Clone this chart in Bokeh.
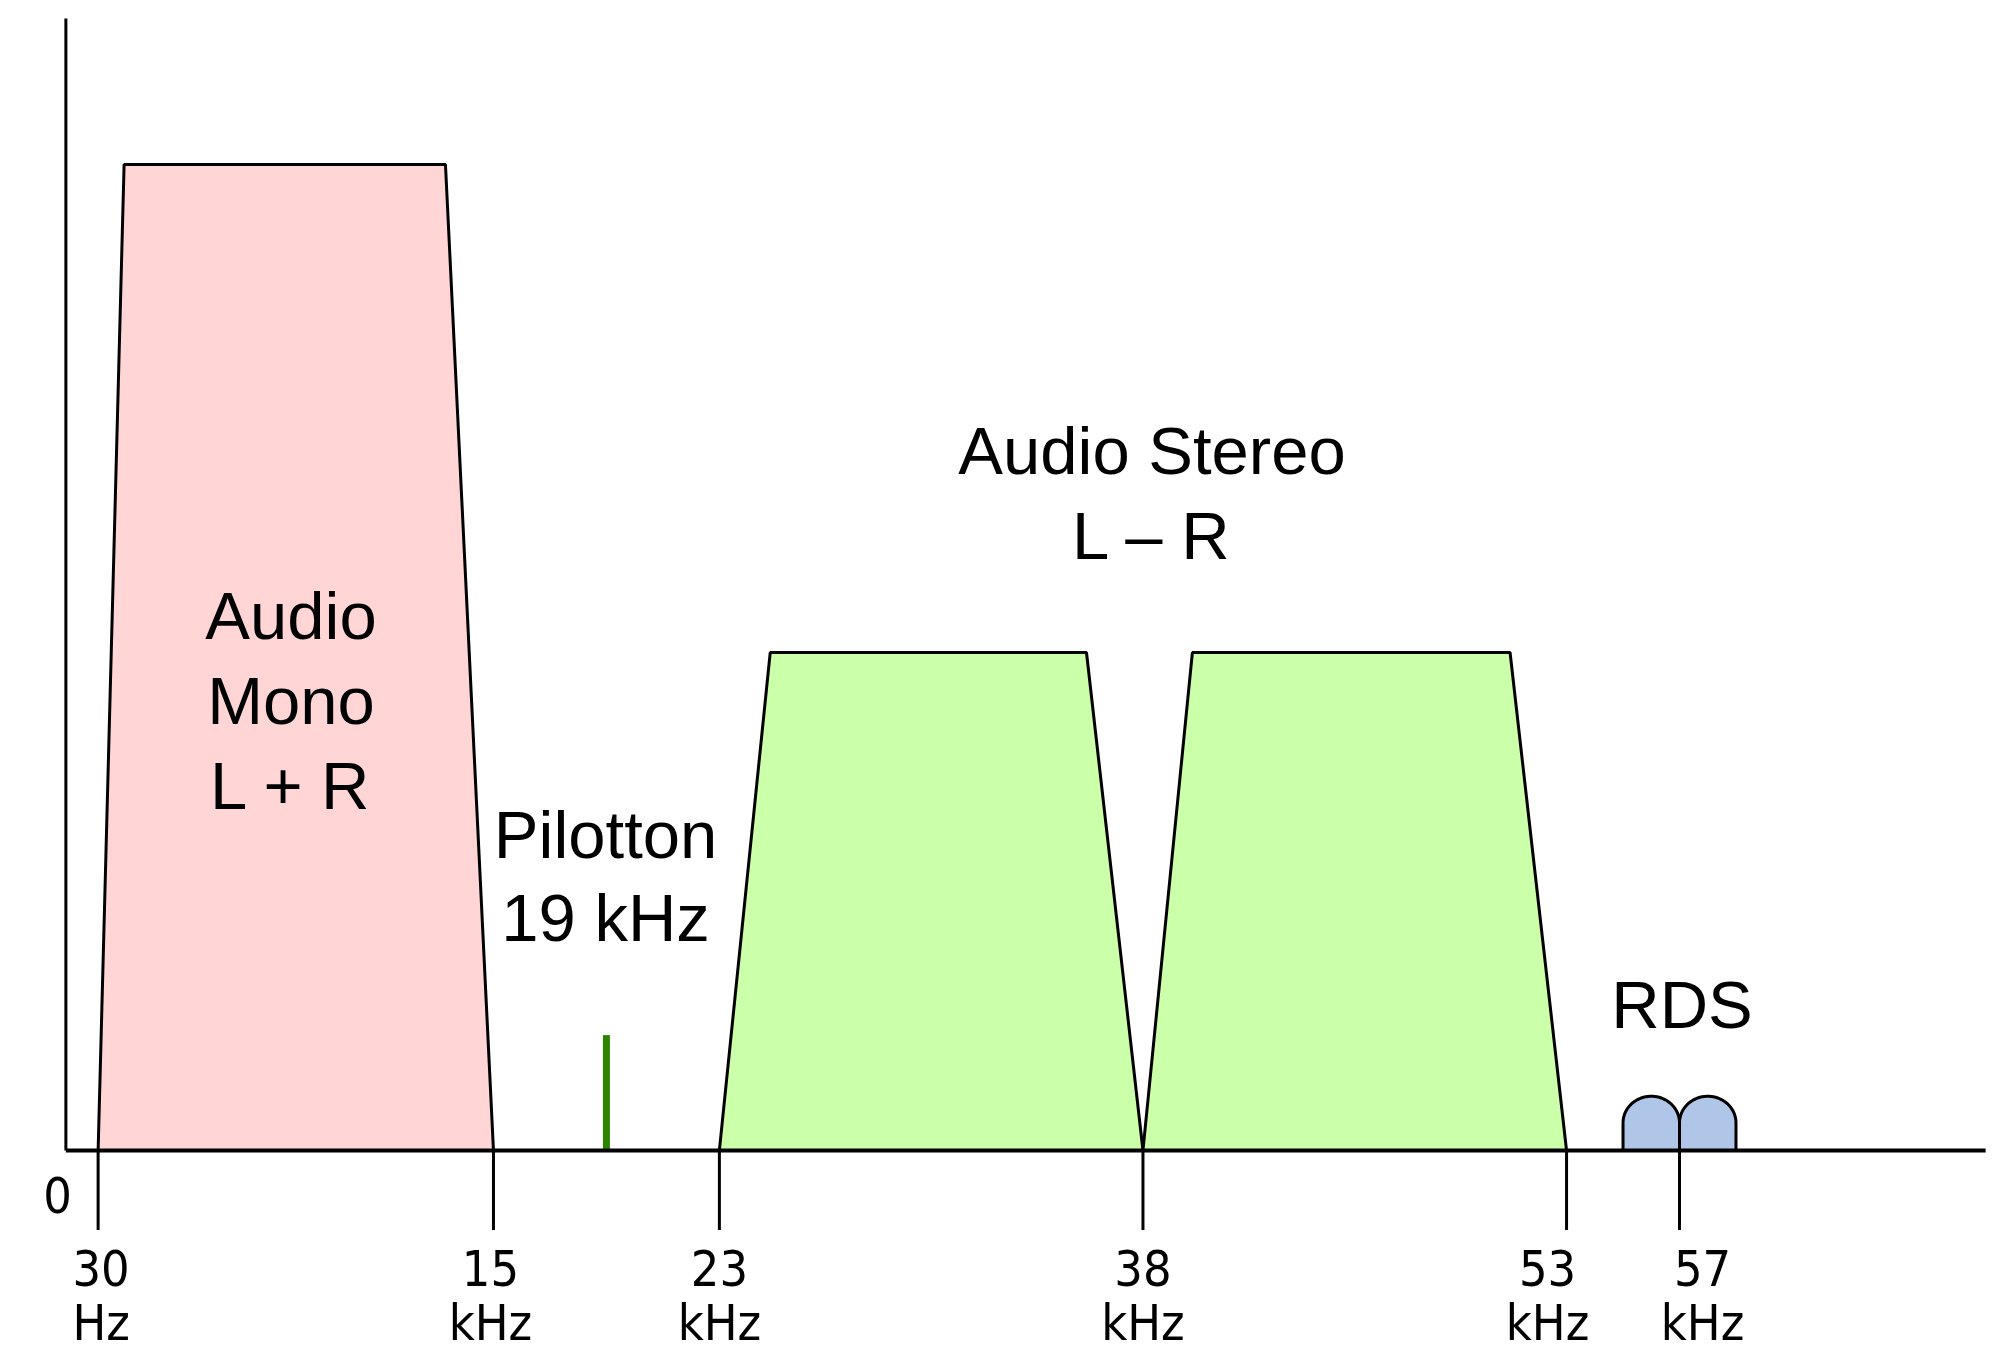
import numpy as np
from bokeh.plotting import figure
from bokeh.models import ColumnDataSource
from bokeh.core.properties import value
from bokeh.embed import file_html
from bokeh.resources import INLINE

# ---------------- data (schematic FM multiplex spectrum) ----------------
# frequency axis in kHz (schematic; the 30 Hz edge sits at the left of the band)
tick_pos = [1.0, 15, 23, 38, 53, 57]
tick_num = ["30", "15", "23", "38", "53", "57"]
tick_unit = ["Hz", "kHz", "kHz", "kHz", "kHz", "kHz"]

mono_x = [1.0, 1.92, 13.3, 15.0]
mono_level = [0, 1.0, 1.0, 0]

stereo_lower_x = [23.0, 24.8, 36.0, 38.0]
stereo_upper_x = [38.0, 39.75, 51.0, 53.0]
stereo_level = [0, 0.505, 0.505, 0]

pilot_freq = 19.0
pilot_level = 0.117

rds_centers = [56.0, 58.0]
rds_halfwidth = 1.0
rds_side = 0.028
rds_cap = 0.027

axis_top = 1.148
axis_right = 67.84

# ---------------- figure ----------------
W, H = 1995, 1352
p = figure(width=W, height=H, x_range=(-2.457, 68.19), y_range=(-0.2049, 1.1663),
           output_backend="svg", toolbar_location=None, min_border=0)
p.axis.visible = False
p.grid.visible = False
p.outline_line_color = None
p.background_fill_color = "white"
p.border_fill_color = "white"

LW = 3
# mono band
p.patch(mono_x, mono_level, fill_color="#ffd5d5", line_color="black", line_width=LW)
# stereo bands
for xs in (stereo_lower_x, stereo_upper_x):
    p.patch(xs, stereo_level, fill_color="#ccffaa", line_color="black", line_width=LW)

# RDS humps
for c in rds_centers:
    t = np.linspace(np.pi, 0, 40)
    hx = [c - rds_halfwidth, c - rds_halfwidth] + list(c + rds_halfwidth * np.cos(t)) + [c + rds_halfwidth, c + rds_halfwidth]
    hy = [0, rds_side] + list(rds_side + rds_cap * np.sin(t)) + [rds_side, 0]
    p.patch(hx, hy, fill_color="#afc6e9", line_color="black", line_width=LW, line_join="round")

# pilot tone
p.segment(x0=[pilot_freq], y0=[0], x1=[pilot_freq], y1=[pilot_level], line_color="#2d8400", line_width=7)

# tick marks
tick_bottom = -0.0807
p.segment(x0=tick_pos, y0=[0] * len(tick_pos), x1=tick_pos, y1=[tick_bottom] * len(tick_pos),
          line_color="black", line_width=LW)

# axes
y_axis_x = -0.142
p.segment(x0=[y_axis_x], y0=[0], x1=[y_axis_x], y1=[axis_top], line_color="black", line_width=3)
p.segment(x0=[y_axis_x], y0=[0], x1=[axis_right], y1=[0], line_color="black", line_width=4)

# tick labels
label_dx = [3, -3, 0, 0, -19, 23]
src = ColumnDataSource(dict(x=tick_pos, num=tick_num, unit=tick_unit, dx=label_dx))
tick_font = value("DejaVu Sans Condensed")
p.text(x="x", y=-0.119, text="num", x_offset="dx", source=src, text_font=tick_font,
       text_font_size="50px", text_align="center", text_baseline="middle", text_color="black")
p.text(x="x", y=-0.175, text="unit", x_offset="dx", source=src, text_font=tick_font,
       text_font_size="50px", text_align="center", text_baseline="middle", text_color="black")
p.text(x=[-0.44], y=[-0.045], text=["0"], text_font=tick_font, text_font_size="50px",
       text_align="center", text_baseline="middle", text_color="black")

# band labels
big = value("Liberation Sans")
labels = [
    ("Audio", 7.83, 0.543), ("Mono", 7.83, 0.456), ("L + R", 7.83, 0.370),
    ("Audio Stereo", 38.32, 0.710), ("L \u2013 R", 38.32, 0.624),
    ("Pilotton", 18.97, 0.320), ("19 kHz", 18.97, 0.236),
    ("RDS", 57.09, 0.148),
]
p.text(x=[l[1] for l in labels], y=[l[2] for l in labels], text=[l[0] for l in labels],
       text_font=big, text_font_size="67px", text_align="center", text_baseline="middle",
       text_color="black")

open("out.html", "w").write(file_html(p, INLINE))
